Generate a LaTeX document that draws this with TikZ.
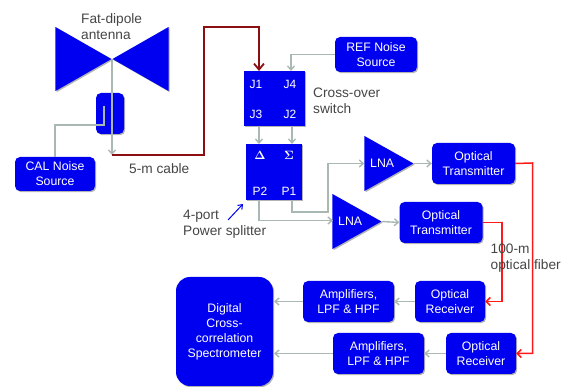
\documentclass[tikz,border=0pt]{standalone}
\usepackage{fontspec}
\setmainfont{Liberation Sans}
\usetikzlibrary{arrows.meta,shadows,shapes.geometric}

\definecolor{blockblue}{HTML}{0000F0}
\definecolor{wiregray}{HTML}{A9B8B0}
\definecolor{cablered}{HTML}{8B0F12}
\definecolor{fiberred}{HTML}{FF1A1A}
\definecolor{notegray}{HTML}{454545}

\tikzset{
  blockshadow/.style={drop shadow={shadow xshift=1.2pt,shadow yshift=-1.2pt,fill=gray,opacity=0.6}},
  blockbox/.style={rectangle,rounded corners=5pt,fill=blockblue,text=white,align=center,
    inner sep=0pt,blockshadow,font=\fontsize{12.3}{15}\selectfont},
  squarebox/.style={blockbox,rounded corners=0pt},
  ampbox/.style={blockbox,minimum width=91pt,minimum height=41pt},
  rxbox/.style={blockbox,minimum width=70pt,minimum height=41pt},
  txbox/.style={blockbox,minimum width=83pt,minimum height=41pt},
  bowtie/.style={isosceles triangle,isosceles triangle stretches,fill=blockblue,inner sep=0pt,
    minimum height=56pt,minimum width=64pt,anchor=apex,blockshadow},
  lnabox/.style={isosceles triangle,isosceles triangle stretches,fill=blockblue,text=white,inner sep=0pt,
    minimum height=49pt,minimum width=55pt,anchor=apex,blockshadow,font=\fontsize{12.3}{15}\selectfont},
  portlabel/.style={text=white,inner sep=0pt,font=\fontsize{12}{14}\selectfont},
  mathlabel/.style={portlabel,font=\fontsize{12}{14}\selectfont\boldmath},
  note/.style={text=notegray,align=left,inner sep=0pt,font=\fontsize{13.7}{16.5}\selectfont},
  wire/.style={draw=wiregray,line width=1.4pt,-{Straight Barb[length=4pt,width=7pt]}},
  plainwire/.style={draw=wiregray,line width=1.4pt},
  cable/.style={draw=cablered,line width=1.8pt,-{Straight Barb[length=6pt,width=10pt]}},
  fiber/.style={draw=fiberred,line width=1.5pt,-{Straight Barb[length=4pt,width=8pt]}},
}

\begin{document}
\begin{tikzpicture}[x=1pt,y=-1pt]
  \useasboundingbox (0,0) rectangle (566,387);

  % antenna and CAL source
  \node[bowtie] (dipoleleft) at (112,59) {};
  \node[bowtie,shape border rotate=180] (dipoleright) at (112,59) {};
  \node[blockbox] (coupler) at (110,113.5) [minimum width=28pt,minimum height=41pt] {};
  \node[blockbox,minimum width=80pt,minimum height=34pt] (cal) at (55,174) {CAL Noise\\Source};
  \coordinate (couplerin) at (104,106);
  \coordinate (couplerbend) at (104,125);
  \coordinate (cablestart) at (112,155);
  \draw[plainwire] (couplerin) -- (couplerbend) -| (cal.north);
  \draw[wire] (dipoleleft.apex) -- (cablestart);
  \node[note,anchor=west] (antennanote) at (81,26.5) {Fat-dipole\\antenna};
  \node[note,anchor=west] (cablenote) at (129,169) {5-m cable};

  % switch
  \node[squarebox,minimum width=61pt,minimum height=55pt] (xswitch) at (274,98.5) {};
  \node[portlabel] (jone) at (256,84) {J1};
  \node[portlabel] (jfour) at (290,84) {J4};
  \node[portlabel] (jthree) at (256,114) {J3};
  \node[portlabel] (jtwo) at (290,114) {J2};
  \node[note,anchor=west] (switchnote) at (313,101) {Cross-over\\switch};
  \node[blockbox,minimum width=82pt,minimum height=35pt] (ref) at (376,54.5) {REF Noise\\Source};
  \coordinate (jonein) at (259,71);
  \coordinate (jfourin) at (291,71);
  \coordinate (cableup) at (204,27);
  \draw[cable] (cablestart) -| (cableup) -| (jonein);
  \draw[wire] (ref.west) -| (jfourin);

  % splitter
  \node[squarebox,minimum width=56pt,minimum height=56pt] (splitter) at (274,172) {};
  \node[mathlabel] (delta) at (260,155) {$\Delta$};
  \node[mathlabel] (sigma) at (289,155) {$\Sigma$};
  \node[portlabel] (ptwo) at (260,191) {P2};
  \node[portlabel] (pone) at (289,191) {P1};
  \node[note,anchor=west] (splitternote) at (183,224) {4-port\\Power splitter};
  \coordinate (jthreeout) at (259,126);
  \coordinate (jtwoout) at (292,126);
  \coordinate (deltain) at (259,144);
  \coordinate (sigmain) at (292,144);
  \draw[wire] (jthreeout) -- (deltain);
  \draw[wire] (jtwoout) -- (sigmain);
  \coordinate (notearrowa) at (228,220);
  \coordinate (notearrowb) at (243,204);
  \draw[draw=blockblue,line width=1pt,-{Straight Barb[length=4pt,width=6pt]}] (notearrowa) -- (notearrowb);

  % LNA and transmitters
  \node[lnabox] (lnaa) at (414,163.5) {LNA};
  \node[lnabox] (lnab) at (382,221.5) {LNA};
  \node[txbox] (txa) at (473.5,163.5) {Optical\\Transmitter};
  \node[txbox] (txb) at (441,222.5) {Optical\\Transmitter};
  \coordinate (poneout) at (292,200);
  \coordinate (ptwoout) at (259,200);
  \coordinate (bendup) at (328,212);
  \coordinate (ptwobend) at (259,220.5);
  \coordinate (lnabin) at (333,220.5);
  \draw[wire] (poneout) |- (bendup) |- (lnaa.west);
  \draw[wire] (ptwoout) -- (ptwobend) -- (lnabin);
  \draw[wire] (lnaa.apex) -- (txa.west);
  \draw[wire] (lnab.apex) -- (txb.west);

  % receivers
  \node[rxbox] (rxa) at (450,301.5) {Optical\\Receiver};
  \node[rxbox] (rxb) at (481,353.5) {Optical\\Receiver};
  \node[ampbox] (ampa) at (348.5,301.5) {Amplifiers,\\LPF \& HPF};
  \node[ampbox] (ampb) at (378.5,353.5) {Amplifiers,\\LPF \& HPF};
  \node[blockbox,rounded corners=14pt,minimum width=97pt,minimum height=109pt] (dcs) at (224.5,331.5)
    {Digital\\Cross-\\correlation\\Spectrometer};
  \coordinate (dcsa) at (274,301.5);
  \coordinate (dcsb) at (274,353.5);
  \draw[wire] (rxa.west) -- (ampa.east);
  \draw[wire] (rxb.west) -- (ampb.east);
  \draw[wire] (ampa.west) -- (dcsa);
  \draw[wire] (ampb.west) -- (dcsb);

  % fibers
  \coordinate (fiberb) at (502,222);
  \coordinate (fibera) at (532.5,163);
  \draw[fiber] (txa.east) -- (fibera) |- (rxb.east);
  \draw[fiber] (txb.east) -| (fiberb) |- (rxa.east);
  \node[note,anchor=west] (fibernote) at (490.5,258) {100-m\\optical fiber};
\end{tikzpicture}
\end{document}
